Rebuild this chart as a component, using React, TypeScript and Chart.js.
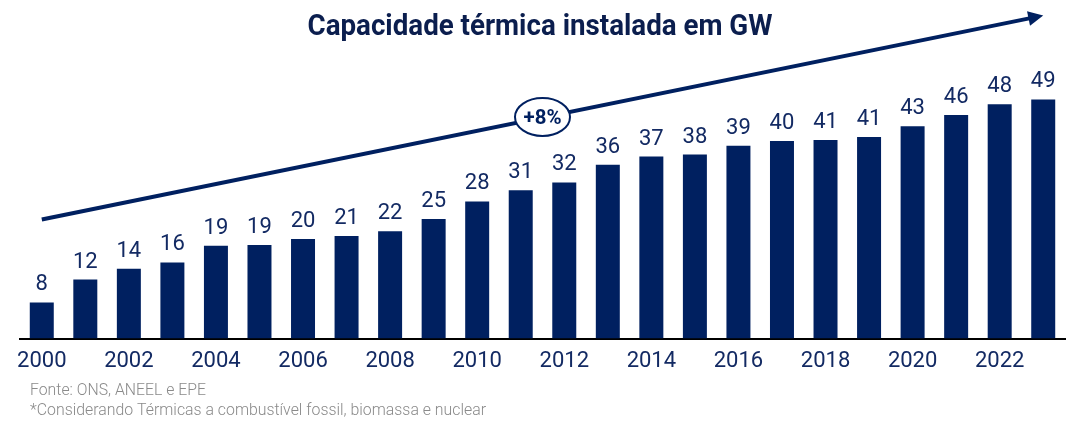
import React, { useEffect, useRef } from "react";
import { Chart, registerables } from "chart.js";

Chart.register(...registerables);

const years = [
  "2000", "2001", "2002", "2003", "2004", "2005", "2006", "2007", "2008", "2009", "2010", "2011",
  "2012", "2013", "2014", "2015", "2016", "2017", "2018", "2019", "2020", "2021", "2022", "2023",
];
const capacityGW = [
  7.4, 12.1, 14.3, 15.6, 19.0, 19.2, 20.4, 21.0, 22.0, 24.5, 28.1, 30.4,
  32.0, 35.6, 37.3, 37.7, 39.5, 40.5, 40.7, 41.3, 43.5, 45.8, 48.0, 49.0,
];
const valueLabels = [
  "8", "12", "14", "16", "19", "19", "20", "21", "22", "25", "28", "31",
  "32", "36", "37", "38", "39", "40", "41", "41", "43", "46", "48", "49",
];
const titleText = "Capacidade térmica instalada em GW";
const growthText = "+8%";
const sourceText = "Fonte: ONS, ANEEL e EPE";
const noteText = "*Considerando Térmicas a combustível fossil, biomassa e nuclear";
// trend arrow anchors (category index, value units)
const trendFrom = { index: 0, value: 24.4 };
const trendTo = { index: 23, value: 66.2 };

const NAVY = "#002060";
const LABEL_NAVY = "#132a63";
const TITLE_NAVY = "#0b1e4e";
const GRAY = "#8a8a8a";

const decorPlugin = {
  id: "decor",
  afterDatasetsDraw(chart: any) {
    const ctx = chart.ctx;
    const x = chart.scales.x;
    const y = chart.scales.y;
    const meta = chart.getDatasetMeta(0);

    // value labels
    ctx.save();
    ctx.fillStyle = LABEL_NAVY;
    ctx.font = "22px Roboto";
    ctx.textAlign = "center";
    ctx.textBaseline = "alphabetic";
    meta.data.forEach((bar: any, i: number) => {
      ctx.fillText(valueLabels[i], bar.x, bar.y - 12);
    });
    ctx.restore();

    // trend arrow
    const x0 = x.getPixelForValue(trendFrom.index);
    const y0 = y.getPixelForValue(trendFrom.value);
    const x1 = x.getPixelForValue(trendTo.index);
    const y1 = y.getPixelForValue(trendTo.value);
    const dx = x1 - x0;
    const dy = y1 - y0;
    const len = Math.sqrt(dx * dx + dy * dy);
    const ux = dx / len;
    const uy = dy / len;
    const nx = -uy;
    const ny = ux;
    const headLen = 15;
    const headHalf = 7.5;
    const bx = x1 - ux * headLen;
    const by = y1 - uy * headLen;
    ctx.save();
    ctx.strokeStyle = NAVY;
    ctx.fillStyle = NAVY;
    ctx.lineWidth = 4;
    ctx.beginPath();
    ctx.moveTo(x0, y0);
    ctx.lineTo(bx + ux * 2, by + uy * 2);
    ctx.stroke();
    ctx.beginPath();
    ctx.moveTo(x1, y1);
    ctx.lineTo(bx + nx * headHalf, by + ny * headHalf);
    ctx.lineTo(bx - nx * headHalf, by - ny * headHalf);
    ctx.closePath();
    ctx.fill();

    // growth ellipse at middle of the arrow
    const cx = (x0 + x1) / 2;
    const cy = (y0 + y1) / 2 - 0.5;
    ctx.beginPath();
    ctx.ellipse(cx, cy, 27.5, 19, 0, 0, Math.PI * 2);
    ctx.fillStyle = "#ffffff";
    ctx.fill();
    ctx.lineWidth = 2;
    ctx.strokeStyle = NAVY;
    ctx.stroke();
    ctx.fillStyle = NAVY;
    ctx.font = "bold 21px Roboto";
    ctx.textAlign = "center";
    ctx.textBaseline = "middle";
    ctx.fillText(growthText, cx, cy + 1.5, 38);
    ctx.restore();

    // title
    ctx.save();
    ctx.fillStyle = TITLE_NAVY;
    ctx.font = "bold 30px Roboto";
    ctx.textAlign = "center";
    ctx.textBaseline = "alphabetic";
    ctx.fillText(titleText, 540, 35, 465);

    // footnotes
    ctx.fillStyle = GRAY;
    ctx.font = "300 16.5px Roboto";
    ctx.textAlign = "left";
    ctx.fillText(sourceText, 30, 394.5, 176);
    ctx.fillText(noteText, 30, 415, 456);
    ctx.restore();
  },
};

export default function App() {
  const canvasRef = useRef<HTMLCanvasElement | null>(null);

  useEffect(() => {
    if (!canvasRef.current) return;
    const chart = new Chart(canvasRef.current, {
      type: "bar",
      data: {
        labels: years,
        datasets: [
          {
            data: capacityGW,
            backgroundColor: NAVY,
            borderWidth: 0,
            barPercentage: 0.551,
            categoryPercentage: 1,
          },
        ],
      },
      options: {
        animation: false,
        responsive: false,
        devicePixelRatio: 1,
        layout: { padding: { top: 36, left: 20, right: 13, bottom: 51 } },
        plugins: {
          legend: { display: false },
          title: { display: false },
          tooltip: { enabled: false },
        },
        scales: {
          x: {
            grid: { display: false, drawTicks: false },
            border: { display: true, color: "#000000", width: 2 },
            ticks: {
              autoSkip: false,
              maxRotation: 0,
              minRotation: 0,
              padding: 10,
              color: LABEL_NAVY,
              font: { family: "Roboto", size: 22 },
              callback: (_v: any, i: number) => (i % 2 === 0 ? years[i] : ""),
            },
          },
          y: {
            display: false,
            min: 0,
            max: 62,
          },
        },
      },
      plugins: [decorPlugin],
    });
    return () => chart.destroy();
  }, []);

  return (
    <div style={{ position: "absolute", left: 0, top: 0, width: 1078, height: 436, background: "#fff" }}>
      <canvas ref={canvasRef} width={1078} height={436} />
    </div>
  );
}
